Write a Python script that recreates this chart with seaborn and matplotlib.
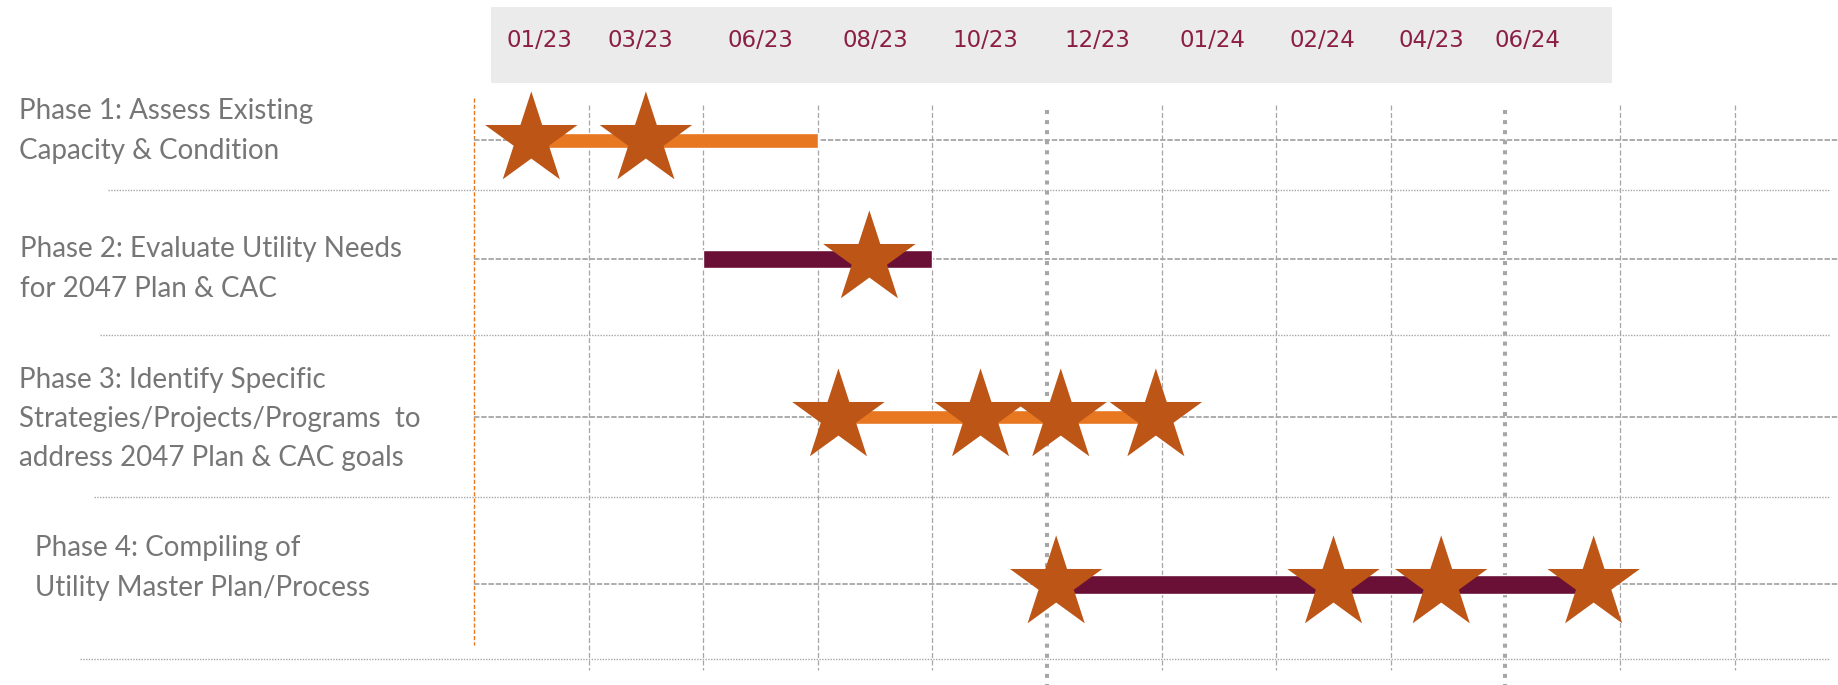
import numpy as np
import pandas as pd
import matplotlib
matplotlib.use("Agg")
import matplotlib.pyplot as plt
from matplotlib.patches import Rectangle
import seaborn as sns

# ---- data ----
phases = [
    "Phase 1: Assess Existing\nCapacity & Condition",
    "Phase 2: Evaluate Utility Needs\nfor 2047 Plan & CAC",
    "Phase 3: Identify Specific\nStrategies/Projects/Programs  to\naddress 2047 Plan & CAC goals",
    "Phase 4: Compiling of\nUtility Master Plan/Process",
]
period_labels = ["01/23", "03/23", "06/23", "08/23", "10/23",
                 "12/23", "01/24", "02/24", "04/23", "06/24"]
bar_start = [0.35, 2.0, 3.2, 5.05]
bar_end = [3.0, 4.0, 5.85, 9.85]
milestones_p1 = [0.5, 1.5]
milestones_p2 = [3.45]
milestones_p3 = [3.18, 4.42, 5.12, 5.95]
milestones_p4 = [5.08, 7.5, 8.44, 9.77]

# ---- layout (pixels of the 1838x685 canvas) ----
W, H = 1838, 685
X0, UNIT = 474, 114.6          # column 0 edge and width of one period column
row_y = [140, 259, 417, 584]   # centre line of each phase row
sep_y = [190, 335, 497, 659]
sep_x0 = [108, 100, 94, 80]
label_pos = [(19, 131), (20, 269), (19, 419), (35, 568)]
tick_x = [0.57, 1.45, 2.5, 3.5, 4.46, 5.44, 6.44, 7.4, 8.35, 9.19]

ORANGE = "#E87722"
MAROON = "#6A1036"
STAR = "#BD5516"
GRID = "#A6A6A6"
TEXT = "#767676"
TICK = "#8B1E45"
bar_colors = [ORANGE, MAROON, ORANGE, MAROON]
bar_height = [15, 18, 14, 19]


def px(x):
    return (x - X0) / UNIT


sns.set_style("white")
plt.rcParams['font.family'] = ['Lato', 'DejaVu Sans']

fig = plt.figure(figsize=(W / 100, H / 100), dpi=100)
ax = fig.add_axes([0, 0, 1, 1])

# header band with period labels
ax.add_patch(Rectangle((px(491), 7), px(1612) - px(491), 76,
                       facecolor="#EBEBEB", edgecolor="none", zorder=0))
for x, lab in zip(tick_x, period_labels):
    ax.text(x, 40, lab, ha="center", va="center", fontsize=16.5,
            color=TICK, family=["DejaVu Sans"])

# vertical grid
for k in range(1, 12):
    if k in (5, 9):
        ax.vlines(k, 110, H, color=GRID, lw=2.9, linestyles=(0, (1, 1.5)), zorder=1)
    else:
        ax.vlines(k, 105, 670, color=GRID, lw=0.9, linestyles=(0, (4, 2)), zorder=1)
ax.vlines(0, 98, 645, color=ORANGE, lw=1, linestyles=(0, (3, 1.5)), zorder=1)

# row centre lines and separators
for y in row_y:
    ax.hlines(y, 0, px(W), color=GRID, lw=1.3, linestyles=(0, (3, 1)), zorder=1)
for y, x0 in zip(sep_y, sep_x0):
    ax.hlines(y, px(x0), px(W - 8), color=GRID, lw=1, linestyles=(0, (1, 1)), zorder=1)

# phase bars
ax.barh(row_y, np.array(bar_end) - np.array(bar_start), left=bar_start,
        height=bar_height, color=bar_colors, zorder=2)

# milestone stars
ms = pd.DataFrame({
    "x": milestones_p1 + milestones_p2 + milestones_p3 + milestones_p4,
    "phase": [0] * len(milestones_p1) + [1] * len(milestones_p2)
             + [2] * len(milestones_p3) + [3] * len(milestones_p4),
})
ms["y"] = [row_y[p] for p in ms["phase"]]
sns.scatterplot(data=ms, x="x", y="y", marker="*", s=70 ** 2, color=STAR,
                edgecolor="none", linewidth=0, ax=ax, zorder=3, legend=False)
ax.set_xlim(px(0), px(W))
ax.set_ylim(H, 0)
ax.axis("off")

# phase labels
for (lx, ly), txt in zip(label_pos, phases):
    ax.text(px(lx), ly, txt, ha="left", va="center", fontsize=20,
            color=TEXT, linespacing=1.62)

fig.savefig("out.png", dpi=100)
